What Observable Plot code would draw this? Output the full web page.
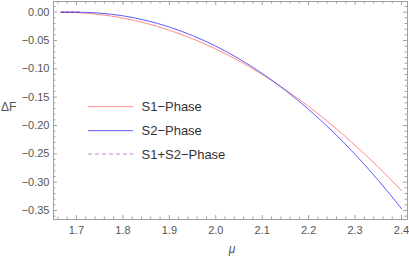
<!DOCTYPE html>
<html><head><meta charset="utf-8">
<script src="https://cdn.jsdelivr.net/npm/d3@7"></script>
<script src="https://cdn.jsdelivr.net/npm/@observablehq/plot@0.6"></script>
<style>
body{margin:0;background:#fff;font-family:"Liberation Sans",Arial,sans-serif;}
#wrap{position:relative;width:409px;height:256px;}
</style></head>
<body><div id="wrap"></div>
<script>
const mu = [1.667,1.70,1.725,1.75,1.80,1.85,1.90,1.95,2.00,2.05,2.10,2.15,2.20,2.25,2.30,2.35,2.40];
const s1 = [0,-0.0006,-0.0020,-0.0040,-0.0104,-0.0196,-0.0318,-0.0469,-0.0650,-0.0860,-0.1099,-0.1367,-0.1665,-0.1992,-0.2348,-0.2734,-0.3149];
const s2 = [0,0,-0.0004,-0.0016,-0.0064,-0.0146,-0.0262,-0.0413,-0.0599,-0.0822,-0.1082,-0.1380,-0.1716,-0.2093,-0.2509,-0.2967,-0.3467];
const mu3 = [1.667,1.71];
const s3 = [0,0];
const seriesNames = ["S1\u2212Phase","S2\u2212Phase","S1+S2\u2212Phase"];
const colors = ["#ff8a8a","#5c5cff","#c77dd0"];
const xMajor = [1.7,1.8,1.9,2.0,2.1,2.2,2.3,2.4];
const yMajor = [0,-0.05,-0.10,-0.15,-0.20,-0.25,-0.30,-0.35];
const xMinor = d3.range(1.66,2.42,0.02).filter(v=>!xMajor.some(m=>Math.abs(m-v)<1e-6));
const yMinor = d3.range(0.01,-0.37,-0.01).filter(v=>!yMajor.some(m=>Math.abs(m-v)<1e-6));

const d1 = mu.map((m,i)=>({mu:m,v:s1[i]}));
const d2 = mu.map((m,i)=>({mu:m,v:s2[i]}));
const d3s = mu3.map((m,i)=>({mu:m,v:s3[i]}));

const W=409,H=256,ML=53,MR=2,MT=1,MB=37;
const PW=W-ML-MR, PH=H-MT-MB;
const fc="#a0a0a0";
const chart = Plot.plot({
  width:W,height:H,marginLeft:ML,marginRight:MR,marginTop:MT,marginBottom:MB,
  style:{fontFamily:"Liberation Sans, Arial, sans-serif",fontSize:"11px",color:"#555",background:"#fff"},
  x:{domain:[1.6505,2.4129],label:null},
  y:{domain:[-0.3659,0.01888],label:null},
  marks:[
    Plot.frame({stroke:fc}),
    Plot.tickX(xMajor,{x:d=>d,stroke:fc,insetTop:PH-4}),
    Plot.tickX(xMajor,{x:d=>d,stroke:fc,insetBottom:PH-4}),
    Plot.tickX(xMinor,{x:d=>d,stroke:fc,insetTop:PH-2.5}),
    Plot.tickX(xMinor,{x:d=>d,stroke:fc,insetBottom:PH-2.5}),
    Plot.tickY(yMajor,{y:d=>d,stroke:fc,insetRight:PW-4}),
    Plot.tickY(yMajor,{y:d=>d,stroke:fc,insetLeft:PW-4}),
    Plot.tickY(yMinor,{y:d=>d,stroke:fc,insetRight:PW-2.5}),
    Plot.tickY(yMinor,{y:d=>d,stroke:fc,insetLeft:PW-2.5}),
    Plot.axisX(xMajor,{tickSize:0,tickPadding:7,tickFormat:d3.format(".1f"),fill:"#555",label:null}),
    Plot.axisY(yMajor,{tickSize:0,tickPadding:4,tickFormat:d3.format(".2f"),fill:"#555",label:null}),
    Plot.line(d1,{x:"mu",y:"v",stroke:colors[0],strokeWidth:1,curve:"monotone-x"}),
    Plot.line(d2,{x:"mu",y:"v",stroke:colors[1],strokeWidth:1,curve:"monotone-x"}),
    Plot.line(d3s,{x:"mu",y:"v",stroke:"#7a2a8a",strokeWidth:1,strokeDasharray:"3,2"})
  ]
});
const wrap=document.getElementById("wrap");
wrap.appendChild(chart);
const ys=[106.7,130.7,154];
let leg=`<svg width="${W}" height="${H}" style="position:absolute;left:0;top:0">`;
seriesNames.forEach((n,i)=>{
  leg+=`<line x1="88" x2="133" y1="${ys[i]}" y2="${ys[i]}" stroke="${colors[i]}" stroke-width="1" ${i==2?'stroke-dasharray="4,3"':''}/>`;
  leg+=`<text x="141.5" y="${ys[i]+4.5}" font-size="13" fill="#333" font-family="Liberation Sans, Arial, sans-serif">${n}</text>`;
});
leg+=`<text x="1" y="111" font-size="12" fill="#555" font-family="Liberation Sans, Arial, sans-serif">\u0394F</text>`;
leg+=`<text x="232" y="253" font-size="12" fill="#555" font-style="italic" text-anchor="middle" font-family="Liberation Sans, Arial, sans-serif">\u03bc</text>`;
leg+=`</svg>`;
wrap.insertAdjacentHTML("beforeend",leg);
</script></body></html>
